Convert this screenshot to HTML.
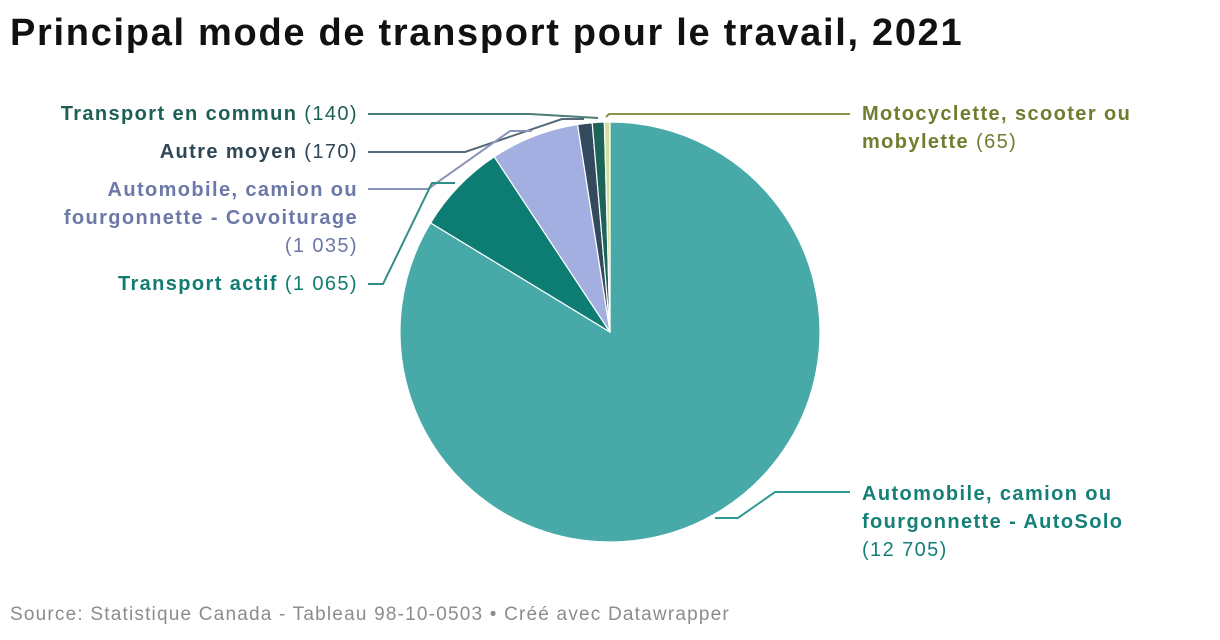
<!DOCTYPE html>
<html><head><meta charset="utf-8"><style>
body{margin:0;width:1220px;height:640px;background:#fff;font-family:"Liberation Sans",Arial,sans-serif;overflow:hidden;position:relative}
h1{position:absolute;left:10px;top:12px;margin:0;font-size:38px;font-weight:bold;color:#111;letter-spacing:1.7px;white-space:nowrap}
.src{position:absolute;left:10px;top:604px;font-size:19px;color:#8c8c8c;letter-spacing:1.2px;white-space:nowrap}
.lbl{position:absolute;font-size:20px;line-height:28px;letter-spacing:1.4px;white-space:nowrap}
.lbl b{font-weight:bold}
</style></head><body>
<h1>Principal mode de transport pour le travail, 2021</h1>
<svg id="chart" width="1220" height="640" style="position:absolute;left:0;top:0"></svg>
<div class="lbl" style="right:862px;top:100px;text-align:right;color:#1e5f55"><b>Transport en commun</b> (140)</div>
<div class="lbl" style="right:862px;top:138px;text-align:right;color:#2e4656"><b>Autre moyen</b> (170)</div>
<div class="lbl" style="right:862px;top:176px;text-align:right;color:#6c78a8"><b>Automobile, camion ou<br>fourgonnette - Covoiturage</b><br>(1 035)</div>
<div class="lbl" style="right:862px;top:270px;text-align:right;color:#117c72"><b>Transport actif</b> (1 065)</div>
<div class="lbl" style="left:862px;top:100px;color:#6e7e2e"><b>Motocyclette, scooter ou<br>mobylette</b> (65)</div>
<div class="lbl" style="left:862px;top:480px;color:#148078"><b>Automobile, camion ou<br>fourgonnette - AutoSolo</b><br>(12 705)</div>
<div class="src">Source: Statistique Canada - Tableau 98-10-0503 • Créé avec Datawrapper</div>
<script>
const categories=["AutoSolo","Transport actif","Covoiturage","Autre moyen","Transport en commun","Moto"];
const values=[12705,1065,1035,170,140,65];
const colors=["#48aaa8","#0d7d74","#a3afe0","#334a5e","#1c6458","#d4e09a"];
const svg=document.getElementById('chart');
const NS="http://www.w3.org/2000/svg";
const cx=610,cy=332,r=210;
const total=values.reduce((a,b)=>a+b,0);
function pt(a,rr){return [cx+rr*Math.sin(a),cy-rr*Math.cos(a)];}
let acc=0;
values.forEach((v,i)=>{
  const a0=acc/total*2*Math.PI;acc+=v;const a1=acc/total*2*Math.PI;
  const p0=pt(a0,r),p1=pt(a1,r);
  const large=(a1-a0)>Math.PI?1:0;
  const p=document.createElementNS(NS,'path');
  p.setAttribute('d',`M${cx},${cy}L${p0[0]},${p0[1]}A${r},${r} 0 ${large} 1 ${p1[0]},${p1[1]}Z`);
  p.setAttribute('fill',colors[i]);p.setAttribute('stroke','#fff');p.setAttribute('stroke-width','1.2');
  
  
  svg.appendChild(p);
});
const leaders=[
 ["#4a7d76","368,114 530,114 598,118"],
 ["#566a78","368,152 465,152 562,119 584,119"],
 ["#8a93b8","368,189 428,189 510,131 532,131"],
 ["#2f8f86","368,284 383,284 432,183 455,183"],
 ["#8b9348","606,117 609,114 850,114"],
 ["#2f9a92","850,492 775,492 738,518 715,518"]];
leaders.forEach(l=>{
  const pl=document.createElementNS(NS,'polyline');
  pl.setAttribute('points',l[1]);pl.setAttribute('fill','none');pl.setAttribute('stroke',l[0]);pl.setAttribute('stroke-width','2');
  
  
  svg.appendChild(pl);
});
</script>
</body></html>
